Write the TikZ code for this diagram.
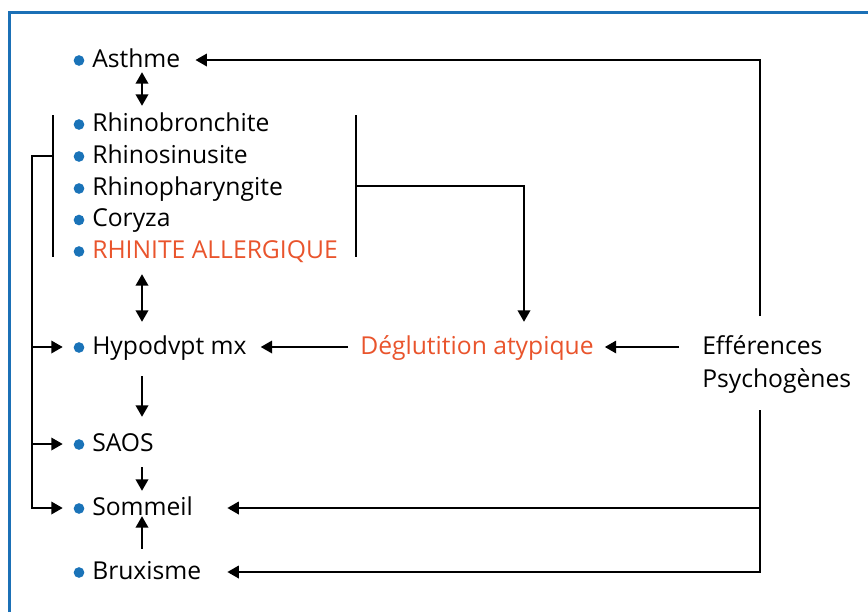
\documentclass[tikz,border=0pt]{standalone}
\usepackage{fontspec}
\setmainfont{Open Sans}
\usetikzlibrary{arrows.meta,calc}
\definecolor{frameblue}{HTML}{1B70B6}
\definecolor{dotblue}{HTML}{1A73B8}
\definecolor{redorange}{HTML}{E9542C}
\begin{document}
\begin{tikzpicture}[x=0.75pt,y=-0.75pt,
  lbl/.style={anchor=base west, inner sep=0pt, text height=13.5pt, text depth=3pt, font=\fontsize{18.5}{22}\selectfont},
  hot/.style={lbl, text=redorange},
  conn/.style={line width=1pt, draw=black},
  brk/.style={line width=0.9pt, draw=black},
  arr/.style={conn, -{Triangle[length=8.5pt,width=9.5pt]}},
  dbl/.style={conn, {Triangle[length=8.5pt,width=9.5pt]}-{Triangle[length=8.5pt,width=9.5pt]}},
  dot/.style={fill=dotblue}
  ]
\useasboundingbox (0,0) rectangle (868,612);
\draw[frameblue, line width=2.25pt] (9.5,612) -- (9.5,12.5) -- (868,12.5);

% text nodes
\node[lbl] (asthme)  at (92,67)    {Asthme};
\node[lbl] (rbron)   at (92,131)   {Rhinobronchite};
\node[lbl] (rsinus)  at (92,163)   {Rhinosinusite};
\node[lbl] (rphar)   at (92,195)   {Rhinopharyngite};
\node[lbl] (coryza)  at (92,226.5) {Coryza};
\node[hot] (rhinite) at (92,258)   {RHINITE ALLERGIQUE};
\node[lbl] (hypo)    at (92,354)   {Hypodvpt mx};
\node[lbl] (saos)    at (92,451)   {SAOS};
\node[lbl] (sommeil) at (92,515)   {Sommeil};
\node[lbl] (brux)    at (92,579)   {Bruxisme};
\node[hot] (deglu)   at (360,354)  {Déglutition atypique};
\node[lbl] (eff1)    at (702,354)  {Efférences};
\node[lbl] (eff2)    at (702,387)  {Psychogènes};

% bullets
\foreach \n in {asthme,rbron,rsinus,rphar,coryza,rhinite,hypo,saos,sommeil,brux}
  \fill[dot] ($(\n.base west)+(-13,-6.5)$) circle[radius=4pt];

% helper coordinates
\coordinate (col) at (142,0);
\coordinate (fx)  at (32,0);
\coordinate (bl1) at (53,115);
\coordinate (bl2) at (53,257);
\coordinate (br1) at (356,115);
\coordinate (br2) at (356,257);
\coordinate (et)  at (760,316);
\coordinate (eb)  at (760,410);

% vertical arrows in the left column
\draw[dbl, shorten <=0.75pt, shorten >=5.25pt] (asthme.south -| col) -- (rbron.north -| col);
\draw[dbl, shorten <=9pt, shorten >=10.5pt] (rhinite.south -| col) -- (hypo.north -| col);
\draw[arr, shorten <=13.5pt, shorten >=12pt] (hypo.south -| col) -- (saos.north -| col);
\draw[arr, shorten <=9pt, shorten >=4.5pt] (saos.south -| col) -- (sommeil.north -| col);
\draw[arr, shorten <=9pt, shorten >=-2.25pt] (brux.north -| col) -- (sommeil.south -| col);

% brackets
\draw[brk] (bl1) -- (bl2);
\draw[brk] (br1) -- (br2);
\draw[arr] ($(br1)!0.5!(br2)$) -| ($(deglu.north west)+(164,-14)$);
\draw[arr] (bl1 |- rsinus.west) -- (fx |- rsinus.west) |- ([xshift=-22pt]sommeil.west);
\draw[arr] (fx |- hypo.west) -- ([xshift=-22pt]hypo.west);
\draw[arr] (fx |- saos.west) -- ([xshift=-22pt]saos.west);

% horizontal chain
\draw[arr, shorten <=17.25pt, shorten >=8.25pt] (eff1.west |- deglu.east) -- (deglu.east);
\draw[arr, shorten <=9pt, shorten >=10.5pt] (deglu.west) -- (hypo.east);

% right trunk
\draw[arr] (et) |- ([xshift=11.25pt]asthme.east);
\draw[arr] (eb) |- ($(brux.east)+(26,0)$);
\draw[arr] (eb |- sommeil.east) -- ($(sommeil.east -| brux.east)+(26,0)$);
\end{tikzpicture}
\end{document}
